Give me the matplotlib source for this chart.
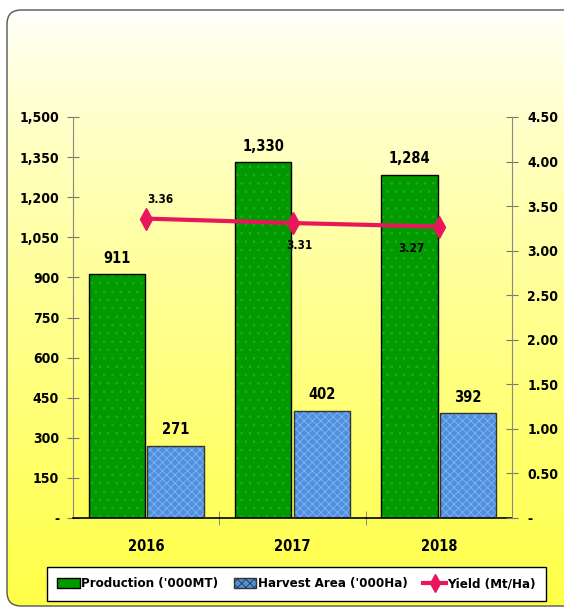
import matplotlib
matplotlib.use("Agg")
import matplotlib.pyplot as plt
import numpy as np
from matplotlib.patches import FancyBboxPatch, Patch
from matplotlib.lines import Line2D

years = ["2016", "2017", "2018"]
production = [911, 1330, 1284]
harvest_area = [271, 402, 392]
yield_vals = [3.36, 3.31, 3.27]
left_ticks = [0, 150, 300, 450, 600, 750, 900, 1050, 1200, 1350, 1500]
left_labels = ["-", "150", "300", "450", "600", "750", "900", "1,050", "1,200", "1,350", "1,500"]
right_ticks = [0, 0.5, 1.0, 1.5, 2.0, 2.5, 3.0, 3.5, 4.0, 4.5]
right_labels = ["-", "0.50", "1.00", "1.50", "2.00", "2.50", "3.00", "3.50", "4.00", "4.50"]
legend_labels = ["Production ('000MT)", "Harvest Area ('000Ha)", "Yield (Mt/Ha)"]

plt.rcParams["font.family"] = ["DejaVu Sans"]
plt.rcParams["font.stretch"] = "condensed"
plt.rcParams["hatch.linewidth"] = 0.6

W, H = 564, 609
fig = plt.figure(figsize=(W / 100, H / 100), dpi=100)
fig.patch.set_facecolor("white")

bg = fig.add_axes([0, 0, 1, 1], zorder=-10)
bg.set_xlim(0, W)
bg.set_ylim(H, 0)
bg.axis("off")
t = np.linspace(0, 1, 256)[:, None]
top = np.array([1.0, 1.0, 1.0])
bot = np.array([1.0, 1.0, 0.28])
g = t ** 0.75
grad = top[None, None, :] * (1 - g[..., None]) + bot[None, None, :] * g[..., None]
grad = np.repeat(grad, 2, axis=1)
panel = FancyBboxPatch((7, 10), 600, 596, boxstyle="round,pad=0,rounding_size=14",
                       facecolor="none", edgecolor="#555555", lw=1.0)
bg.add_patch(panel)
im = bg.imshow(grad, extent=(7, 607, 606, 10), aspect="auto", zorder=0)
im.set_clip_path(panel)

ax = fig.add_axes([73 / W, 1 - 518 / H, (512 - 73) / W, (518 - 117) / H])
ax.patch.set_alpha(0)
x = np.arange(len(years))
bw = 0.385
off = 0.2
green = "#009a00"
blue = "#4f8fe0"

ax.bar(x - off, production, bw, color=green, edgecolor="#22aa22", hatch="..", lw=0, zorder=2)
ax.bar(x - off, production, bw, facecolor="none", edgecolor="black", lw=1.0, zorder=3)
ax.bar(x + off, harvest_area, bw, color=blue, edgecolor="#86b6f0", hatch="xxxx", lw=0, zorder=2)
ax.bar(x + off, harvest_area, bw, facecolor="none", edgecolor="#333333", lw=1.0, zorder=3)

lab_kw = dict(ha="center", va="bottom", fontsize=10.5, fontweight="bold")
for xi, v in zip(x, production):
    ax.annotate(f"{v:,}", (xi - off, v), xytext=(0, 6), textcoords="offset points", **lab_kw)
for xi, v in zip(x, harvest_area):
    ax.annotate(f"{v:,}", (xi + off, v), xytext=(0, 6), textcoords="offset points", **lab_kw)

ax.set_xlim(-0.5, 2.5)
ax.set_ylim(0, 1500)
ax.set_yticks(left_ticks)
ax.set_yticklabels(left_labels, fontsize=10, fontweight="bold")
ax.set_xticks(x)
ax.set_xticklabels(years, fontsize=10.5, fontweight="bold")
ax.tick_params(axis="x", length=0, pad=15)
ax.set_xticks([0.5, 1.5], minor=True)
ax.tick_params(axis="x", which="minor", length=10, direction="inout", color="#777777")
ax.tick_params(axis="y", length=8, direction="inout", color="#777777", pad=6)
for s in ["top", "right"]:
    ax.spines[s].set_visible(False)
ax.spines["left"].set_color("#888888")
ax.spines["bottom"].set_color("black")
ax.spines["bottom"].set_linewidth(1.2)

ax2 = ax.twinx()
ax2.set_ylim(0, 4.5)
ax2.set_yticks(right_ticks)
ax2.set_yticklabels(right_labels, fontsize=10, fontweight="bold")
ax2.tick_params(axis="y", length=8, direction="inout", color="#777777", pad=7)
for s in ["top", "left", "bottom"]:
    ax2.spines[s].set_visible(False)
ax2.spines["right"].set_color("#888888")
pink = "#e8175d"
ax2.plot(x, yield_vals, color=pink, lw=3, marker="d", ms=11, zorder=5)
offsets = [(10, 14), (5, -16), (-20, -16)]
for xi, v, o in zip(x, yield_vals, offsets):
    ax2.annotate(f"{v:.2f}", (xi, v), xytext=o, textcoords="offset points",
                 ha="center", va="center", fontsize=8.5, fontweight="bold")

handles = [Patch(facecolor=green, edgecolor="black"),
           Patch(facecolor=blue, edgecolor="#333333", hatch="xxxx"),
           Line2D([0], [0], color=pink, lw=3, marker="d", ms=9)]
leg = fig.legend(handles, legend_labels, loc="center", bbox_to_anchor=(0.5257, 1 - 584 / H),
                 ncol=3, frameon=True, fancybox=False, edgecolor="black", framealpha=1,
                 prop={"size": 9.5, "weight": "bold"}, handlelength=1.7, handleheight=0.7,
                 handletextpad=0.1, columnspacing=1.2, borderpad=0.8)
leg.get_frame().set_linewidth(1.0)

fig.savefig("out.png", dpi=100)
